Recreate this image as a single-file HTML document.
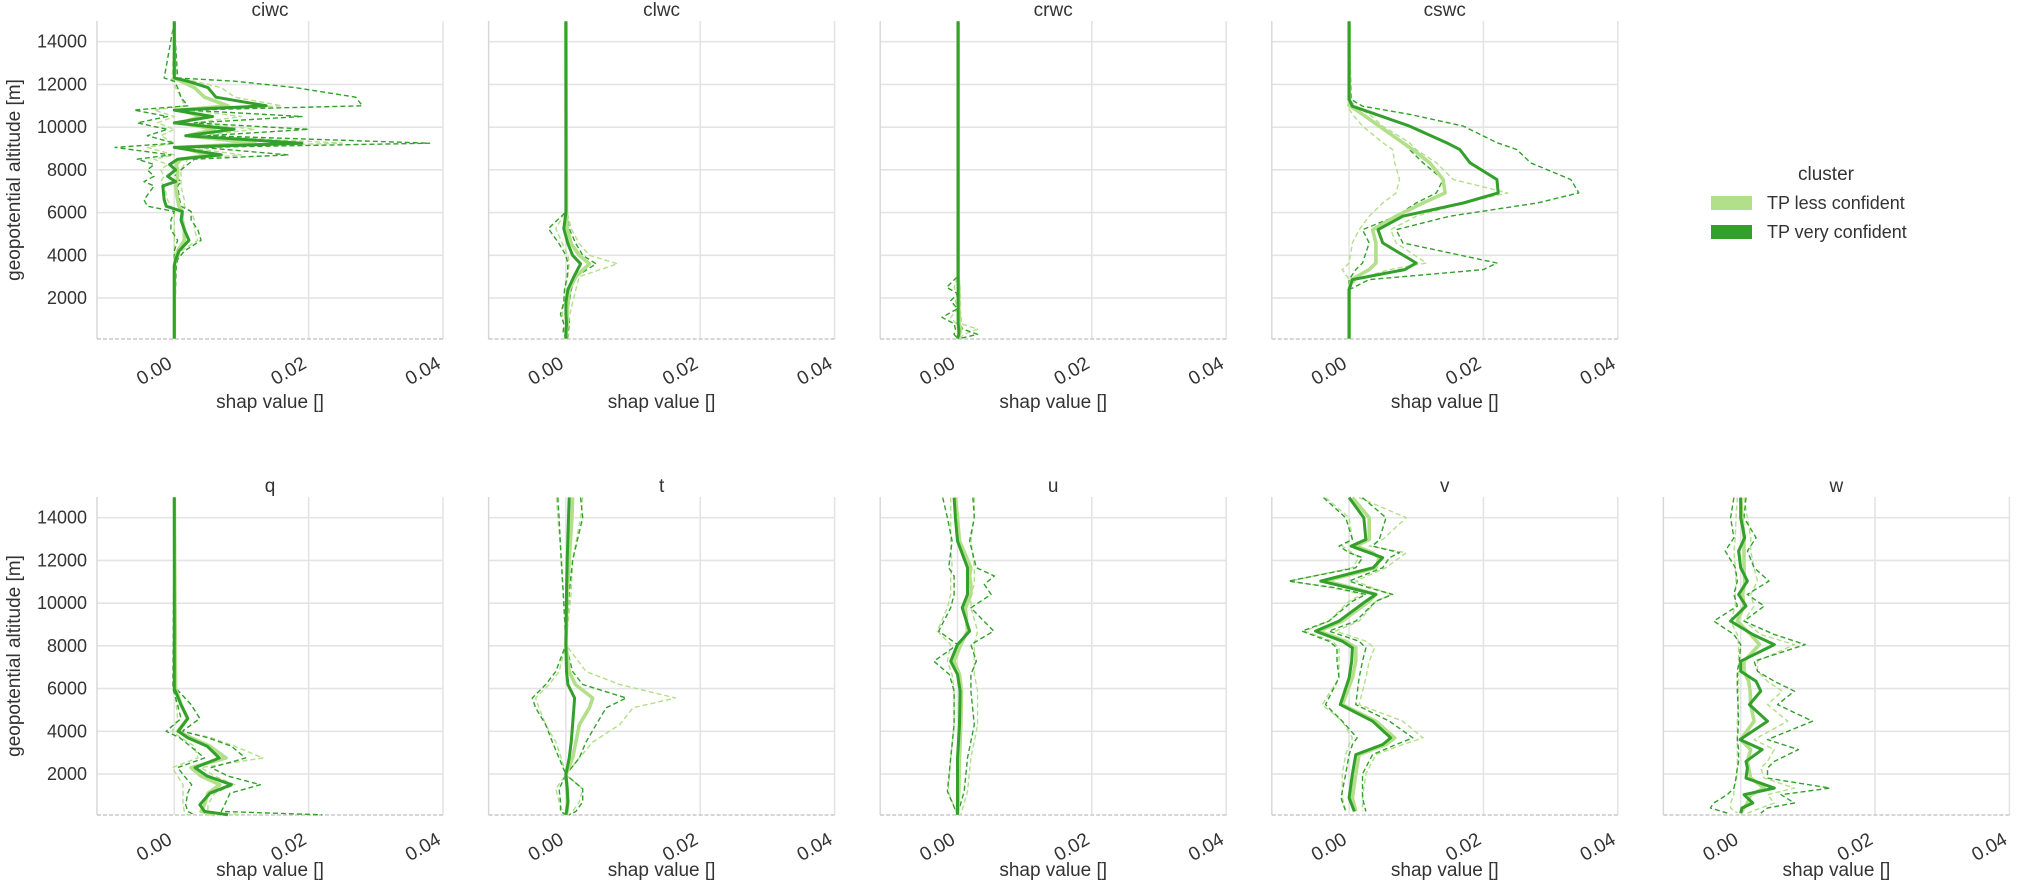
<!DOCTYPE html>
<html><head><meta charset="utf-8"><style>
html,body{margin:0;padding:0;background:#fff;}
svg{display:block;font-family:"Liberation Sans","DejaVu Sans",sans-serif;}
</style></head><body>
<svg id="chart" width="2017" height="888" viewBox="0 0 2017 888" xmlns="http://www.w3.org/2000/svg"></svg>
<script>
// values in units of 1e-3 shap value; altitude in m
const ciwc_alt=[14950,12300,12150,11850,11400,11000,10800,10500,10200,9900,9600,9250,9050,8700,8500,8250,8000,7700,7450,7250,6600,6300,6050,5650,5200,4700,4200,3800,3500,2500,100];
const ciwc_vm=[0,0,2,5,6.2,13.7,0,5.7,0,8.9,1.7,19,0,7,0.5,-0.7,0.2,-1,0.2,-1.7,-1.5,-1.2,1.2,1,1.5,2.2,0.7,0.2,0,0,0];
const ciwc_lm=[0,0,1,3,4.5,8,1,4,1,6,2,12,1,5,1,0.3,0.5,0.5,0.4,0.2,0.5,0.7,1.2,1.2,1.5,1.5,0.5,0.2,0,0,0];
const ciwc_vh=[0,0.5,9,18,27,28,2,19,3,20,5,38,4,17,3,2,1,0,1,0.5,0.8,1,2.5,2.5,3.5,4,1.5,0.5,0.3,0.2,0];
const ciwc_vl=[0,-1.5,0,0.5,1,2,-6,-1,-5.5,-1,-4,0,-8.8,-0.5,-5.5,-3,-4,-3,-4.5,-3,-4.5,-4,0,-0.5,-0.5,0.5,0,0,0,0,0];
const ciwc_lh=[0,0.3,3,7,9,16,2,10,3,12,4,25,2,10,2,1.5,1,1,1,1,1.5,1.5,2.5,3,3,3.5,1,0.5,0,0,0];
const ciwc_ll=[0,-0.3,-0.3,0.2,1,1.5,-3,0,-2.5,0,-2,0,-4,0,-3,-1,-2,-1.5,-2,-1.5,-1,-0.5,0,0,0,0,0,0,0,0,0];

const clwc_alt=[14950,6000,5250,4540,4000,3600,3000,2400,1800,1240,800,400,100];
const clwc_vm=[0,0,-0.3,0.3,1,2.2,1.2,0.3,0,0,0.1,0,0];
const clwc_lm=[0,0.1,0.2,0.8,2,3.5,1.5,0.5,0.3,0.2,0.2,0.1,0];
const clwc_vh=[0,0.1,0.5,1.5,2.5,4.5,1.5,0.8,0.5,0.3,0.5,0.3,0.2];
const clwc_vl=[0,-0.1,-2.6,-1,0,0.3,0.2,-0.2,-0.3,-0.8,-0.3,-0.4,0];
const clwc_lh=[0,0.2,0.8,2,3.5,7.7,2,1.5,1,0.6,0.5,0.5,0.3];
const clwc_ll=[0,-0.1,-1.5,-0.5,0.3,0.5,0.3,-0.2,-0.3,-0.5,-0.3,-0.3,0];

const crwc_alt=[14950,3000,2500,2200,1870,1500,1090,800,540,300,100];
const crwc_vm=[0.1,0.1,0.1,0.1,0.1,0.1,0.1,0.1,0.2,0.2,0];
const crwc_lm=[0.1,0.1,0.2,0.2,0.2,0.2,0.3,0.2,0.5,0.3,0];
const crwc_vh=[0.1,0.2,0.3,0.3,0.3,0.2,0.4,0.3,0.8,3,0.3];
const crwc_vl=[0.1,0,-1.6,0,-1,0,-2.3,-0.5,-0.3,-0.5,0];
const crwc_lh=[0.1,0.2,0.4,0.4,0.5,0.4,0.6,0.5,3,1,0.2];
const crwc_ll=[0.1,0,-0.5,0,-0.3,0,-1,-0.2,0,0,0];

const cswc_alt=[14950,11300,10980,10600,10050,9270,8950,8330,7550,6920,6450,5830,5200,4580,3640,3330,2860,2390,100];
const cswc_vm=[0,0,0.5,4,9,14.5,16.5,18,22,22.2,17,8,4.3,5,10,8.3,0.5,0,0];
const cswc_lm=[0,0,0.2,2,4.5,8,9.5,12,14,14.3,11,7,3.5,4,4,3,0.4,0,0];
const cswc_vh=[0,0.3,2,9,17,22,25,27,33,34.2,28,15,7,8,22,20,3,0,0];
const cswc_vl=[0,0,0,2,4.5,8,9,11,14,13,10,7,2,3,2,1,0,0,0];
const cswc_lh=[0,0,1,3,5,9,10,13,15.5,23.6,17,10,6.2,7,11.5,6,1,0,0];
const cswc_ll=[0,0,-0.2,0.5,2,5,6.5,6.8,7.5,7,5,3,1.5,0.5,0,-1,0,0,0];

const q_alt=[14950,6000,5250,4600,4000,3700,3300,2750,2300,1900,1500,1100,560,250,90];
const q_vm=[0,0,1,2,0.6,2,4.9,6.7,3.1,4.9,8.5,5.3,3.8,4.5,8];
const q_lm=[0,0.2,1,2,0.5,2.5,5.3,7.7,2.5,4,6.8,5,4.5,4,6];
const q_vh=[0,0.3,2.5,3.8,1.2,5,8.5,10.6,5.5,8,12.8,8.3,7.5,7,22];
const q_vl=[0,-0.2,0.5,1,-1.2,0.8,2.4,4.5,0.5,1.5,2.6,2,1.7,2,3];
const q_lh=[0,0.3,2.5,3.8,1.2,5.5,9,13.2,4,6,9,6,5,5,10];
const q_ll=[0,0,0.3,0.5,-0.3,1,3,3.5,-0.3,0.5,1.3,1.3,1.3,1.5,2];

const t_alt=[14950,14000,12000,10500,8060,6800,6190,5560,5100,4310,3500,2750,1970,1300,700,250,90];
const t_vm=[0.5,0.4,0.2,0.1,0,0.1,0.3,1.3,1.2,1,0.8,0.5,0,0.2,0.3,0.1,0];
const t_lm=[1,0.9,0.5,0.2,0,0.5,1.4,4,3.5,2,1.5,1,0,0.2,0.3,0.2,0];
const t_vh=[2.2,2.5,1,0.5,0,1,2.5,9,6,4.5,3,2,0,2.5,2.5,1.5,0.5];
const t_vl=[-1.2,-1,-0.7,-0.4,0,-1.5,-3,-5,-4.5,-3,-2,-1,0,-1,-0.8,-0.8,0];
const t_lh=[2.5,2.2,1,0.8,0,3,8,16.3,10,8,4,2,0,2.5,2,1,0.5];
const t_ll=[-1.4,-1.2,-0.6,-0.4,0,-1,-2.5,-4.5,-4,-3,-1.5,-0.7,0,-1.5,-1,-0.5,0];

const u_alt=[14940,14000,12910,11660,11270,10880,10410,9780,8690,8060,7280,6660,5880,4310,2750,1190,90];
const u_vm=[-0.5,-0.3,0,1.5,1.5,1.5,1.5,0.7,1.8,0,-1,0,0.4,0.3,0,0,0];
const u_lm=[-0.3,0,0.3,2,1.8,2,2,1.2,1.5,0.5,-0.5,0.3,0.6,0.5,0.3,0.2,0];
const u_vh=[2.3,2.5,1.8,2.8,5.5,4,5,2,5.4,2,2.8,2,2,2.5,1.5,1,0];
const u_vl=[-2.2,-1.5,-0.8,-1.3,-0.5,-0.5,-0.5,-1,-2.8,0,-3.5,-1.2,-0.5,-0.5,-1,-1.5,0];
const u_lh=[2.5,2.5,2,2.5,2.5,2.5,2,2,3,2.5,2.5,2.5,3,3,2,1.5,0.5];
const u_ll=[-1,-1,-1,-0.8,-1,-1,-1,-1.5,-3,-1,-1.5,-0.8,-0.5,-0.5,-1,-1.4,0];

const v_alt=[14940,14000,12980,12670,12360,12130,11660,11030,10720,10410,10090,9160,8690,8220,7910,7280,6500,5250,4470,3690,3380,2910,2000,880,250];
const v_vm=[0,2.2,2.5,0.3,3,5,3.6,-4.2,0,4,2.5,-1.5,-5,-1,0.5,0.4,0,-1.3,3.5,6.2,5,1,0.5,0,0.8];
const v_lm=[0.5,3,3,1,3.5,4.5,4,-3.5,0.5,4,3,-1,-4.5,-0.5,1,1,0.5,-1,4,6.8,5.5,1.5,1,0.5,1];
const v_vh=[2,5.5,4.5,3.5,7.5,6,5,0,3,6.5,4,1,-3,1.5,2.5,2,1.5,1,6,9.5,7,3.5,2,2,2.5];
const v_vl=[-3.8,-0.5,0.5,-1.5,0,2,1,-9,-2,2.5,0.5,-3,-7,-3,-1.8,-1.8,-1.5,-3.5,-1,1.2,0.5,0,-0.5,-1.2,-0.5];
const v_lh=[1.5,8.5,5,3,8.5,7.5,5.5,1,3.5,6.3,4,1.5,-2,2.5,3.8,3,2.5,1.5,8,11,8,4,2.5,2,2];
const v_ll=[-3.5,0,0.5,-1,0.5,1.5,0.5,-8.8,-2.5,2,0,-3,-6.6,-2.5,-1.5,-1.5,-1.5,-4,-1,0.5,0,-0.5,-1,-1,-0.5];

const w_alt=[14940,14000,13060,12440,11660,11030,10410,9860,9160,8530,8060,7280,6810,6340,5880,5250,4470,3610,3140,2590,2280,1810,1340,1030,640,410,170];
const w_vm=[0,0,0.6,-0.3,0,1,-0.3,0.8,-1.5,1.8,5,0,0,2.3,3,1.3,4,-0.1,3.2,0.8,1,0.8,5,0.5,1.8,0.2,0];
const w_lm=[0,0.2,0.5,0.5,0.5,0.6,0.3,0.5,-0.5,1.5,2.8,0.5,0.5,1.2,1.4,1.5,2,0,1.5,1,1.2,1.5,3.5,1.5,1,0.5,0];
const w_vh=[0.8,0.5,2.3,1,2,4.2,1,3.5,0.5,5,9.6,2,2.5,5,8,5.5,10.7,4,8.6,5,4,4,13.3,6,8,4,3];
const w_vl=[-1,-1.5,-1,-2.3,-0.8,-0.5,-1,-0.5,-4,-1,0,-0.2,-0.5,-0.5,-0.5,-0.4,-0.3,-0.5,-0.3,-0.3,-0.5,-0.7,-1,-2,-4,-4.5,-2];
const w_lh=[0.5,1,1.5,1.5,2,2.5,1.5,2,0.5,3,8,2.5,2.5,4,6.2,4,7,2,5,4,3,3.5,8,4,5,3,1];
const w_ll=[-0.5,-0.7,-0.8,-1,-0.8,-0.7,-0.8,-0.8,-1.5,-0.5,-0.3,-0.3,-0.3,-0.3,-0.3,-0.4,-0.5,-0.5,-0.5,-0.5,-0.5,-0.6,-1,-1,-1.5,-1.5,-0.5];

const panelNames=["ciwc","clwc","crwc","cswc","q","t","u","v","w"];
const xTicks=[0,20,40];
const xTickLabels=["0.00","0.02","0.04"];
const yTicks=[2000,4000,6000,8000,10000,12000,14000];

const panels={
 ciwc:[ciwc_alt,ciwc_vm,ciwc_lm,ciwc_vh,ciwc_vl,ciwc_lh,ciwc_ll],
 clwc:[clwc_alt,clwc_vm,clwc_lm,clwc_vh,clwc_vl,clwc_lh,clwc_ll],
 crwc:[crwc_alt,crwc_vm,crwc_lm,crwc_vh,crwc_vl,crwc_lh,crwc_ll],
 cswc:[cswc_alt,cswc_vm,cswc_lm,cswc_vh,cswc_vl,cswc_lh,cswc_ll],
 q:[q_alt,q_vm,q_lm,q_vh,q_vl,q_lh,q_ll],
 t:[t_alt,t_vm,t_lm,t_vh,t_vl,t_lh,t_ll],
 u:[u_alt,u_vm,u_lm,u_vh,u_vl,u_lh,u_ll],
 v:[v_alt,v_vm,v_lm,v_vh,v_vl,v_lh,v_ll],
 w:[w_alt,w_vm,w_lm,w_vh,w_vl,w_lh,w_ll]
};

const NS="http://www.w3.org/2000/svg";
const svg=document.getElementById("chart");
const LIGHT="#b2df8a", DARK="#33a02c", GRID="#e4e4e4", TXT="#333";
const XMIN=-11.5, XMAX=40, YMIN=80, YMAX=14970;
const PW=346, PH=318;
function mk(tag,attrs,parent){const e=document.createElementNS(NS,tag);for(const k in attrs)e.setAttribute(k,attrs[k]);(parent||svg).appendChild(e);return e;}

panelNames.forEach((name,i)=>{
  const row=i<4?0:1, col=i<4?i:i-4;
  const L=97+col*391.6, T=row===0?21:497, B=T+PH;
  const sx=v=>L+(v-XMIN)/(XMAX-XMIN)*PW;
  const sy=a=>B-(a-YMIN)/(YMAX-YMIN)*PH;
  const g=mk("g",{});
  
  
  yTicks.forEach(a=>{
    const l=mk("line",{x1:L,x2:L+PW,y1:sy(a),y2:sy(a),stroke:GRID,"stroke-width":1.6},g);
    
    
    if(col===0){
      const tx=mk("text",{x:L-10,y:sy(a)+6,"text-anchor":"end","font-size":18,fill:TXT},g);
      tx.textContent=a;
      
      
    }
  });
  xTicks.forEach((v,k)=>{
    const l=mk("line",{x1:sx(v),x2:sx(v),y1:T,y2:B,stroke:GRID,"stroke-width":1.6},g);
    
    
    const ax=sx(v)-1, ay=B+28;
    const tx=mk("text",{x:ax,y:ay,"text-anchor":"end","font-size":19,fill:TXT,transform:`rotate(-30 ${ax} ${ay})`},g);
    tx.textContent=xTickLabels[k];
    
    
  });
  const sp=mk("line",{x1:L,x2:L,y1:T,y2:B,stroke:"#d6d6d6","stroke-width":1.4},g);
  
  
  const bs=mk("line",{x1:L,x2:L+PW,y1:B,y2:B,stroke:"#c8c8c8","stroke-width":1.4,"stroke-dasharray":"4,2"},g);
  
  
  const title=mk("text",{x:L+PW/2,y:T-5,"text-anchor":"middle","font-size":19,fill:TXT},g);
  title.textContent=name;
  
  
  const xl=mk("text",{x:L+PW/2,y:B+(row===0?69:61),"text-anchor":"middle","font-size":19,fill:TXT},g);
  xl.textContent="shap value []";
  
  
  if(col===0){
    const cy=(T+B)/2;
    const yl=mk("text",{x:20,y:cy,"text-anchor":"middle","font-size":19,fill:TXT,transform:`rotate(-90 20 ${cy})`},g);
    yl.textContent="geopotential altitude [m]";
    
    
  }
  const d=panels[name], alt=d[0];
  const path=arr=>{const n=Math.min(alt.length,arr.length);let s="";for(let j=0;j<n;j++){s+=(j?"L":"M")+sx(arr[j]).toFixed(1)+","+sy(alt[j]).toFixed(1);}return s;};
  const series=[
    [d[5],LIGHT,1.4,"5,3","less-confident-upper"],
    [d[6],LIGHT,1.4,"5,3","less-confident-lower"],
    [d[3],DARK,1.4,"5,3","very-confident-upper"],
    [d[4],DARK,1.4,"5,3","very-confident-lower"],
    [d[2],LIGHT,3.6,"","less-confident-mean"],
    [d[1],DARK,3,"","very-confident-mean"]
  ];
  series.forEach(s=>{
    const p=mk("path",{d:path(s[0]),fill:"none",stroke:s[1],"stroke-width":s[2],"stroke-linejoin":"round"},g);
    if(s[3])p.setAttribute("stroke-dasharray",s[3]);
    
    
  });
});

// legend
const lg=mk("g",{});


const lt=mk("text",{x:1826,y:180,"text-anchor":"middle","font-size":19,fill:TXT},lg);
lt.textContent="cluster";


[["TP less confident",LIGHT,196],["TP very confident",DARK,225]].forEach(e=>{
  const r=mk("rect",{x:1711,y:e[2],width:41,height:14,fill:e[1]},lg);
  
  
  const t=mk("text",{x:1767,y:e[2]+13,"font-size":18,fill:TXT},lg);
  t.textContent=e[0];
  
  
});
</script>
</body></html>
